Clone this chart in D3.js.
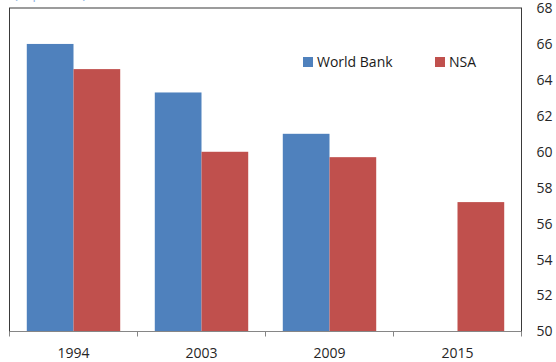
<!DOCTYPE html>
<html>
<head>
<meta charset="utf-8">
<script src="https://cdn.jsdelivr.net/npm/d3@7"></script>
<style>
  body { margin: 0; background: #fff; }
  text { font-family: "Open Sans", "Noto Sans", sans-serif; }
</style>
</head>
<body>
<div id="chart"></div>
<script>
var years = ['1994', '2003', '2009', '2015'];
var series = ['World Bank', 'NSA'];
var worldBank = [66.0, 63.3, 61.0, null];
var nsa = [64.6, 60.0, 59.7, 57.2];
var yTicks = [50, 52, 54, 56, 58, 60, 62, 64, 66, 68];
var colors = ['#4F81BD', '#C0504D'];

var width = 556,
    height = 362;

var margin = { top: 8, right: 34.5, bottom: 30.5, left: 9.5 },
    plotW = width - margin.left - margin.right,
    plotH = height - margin.top - margin.bottom;

var svg = d3.select('#chart')
    .append('svg')
    .attr('width', width)
    .attr('height', height);

// cut off subtitle at the very top
svg.append('text')
    .attr('x', 14)
    .attr('y', -1)
    .attr('fill', '#8DB3E2')
    .style('font-size', '13px')
    .text('(in per cent)');

var g = svg.append('g')
    .attr('transform', 'translate(' + margin.left + ',' + margin.top + ')');

var x0 = d3.scaleBand().domain(years).range([0, plotW]).padding(0);
var x1 = d3.scaleBand().domain(series).range([0, x0.bandwidth()])
    .paddingInner(0).paddingOuter(0.37);
var y = d3.scaleLinear().domain([50, 68]).range([plotH, 0]);

var rows = years.map((yr, i) => ({ year: yr, values: [worldBank[i], nsa[i]] }));

// frame
g.append('rect')
    .attr('x', 0)
    .attr('y', 0)
    .attr('width', plotW)
    .attr('height', plotH)
    .attr('fill', 'none')
    .attr('stroke', '#3a3a3a')
    .attr('stroke-width', 1);

g.selectAll('.grp')
    .data(rows)
    .enter()
    .append('g')
    .attr('transform', d => 'translate(' + x0(d.year) + ',0)')
    .selectAll('rect')
    .data(d => d.values.map((v, j) => ({ key: series[j], v: v, c: colors[j] })).filter(d => d.v != null))
    .enter()
    .append('rect')
    .attr('x', d => x1(d.key))
    .attr('y', d => y(d.v))
    .attr('width', x1.bandwidth())
    .attr('height', d => plotH - y(d.v))
    .attr('fill', d => d.c);

// x axis
var xAxis = g.append('g')
    .attr('transform', 'translate(0,' + plotH + ')');
xAxis.append('line')
    .attr('x1', 0).attr('x2', plotW)
    .attr('stroke', '#868686');
xAxis.selectAll('.tk')
    .data(d3.range(years.length + 1))
    .enter()
    .append('line')
    .attr('x1', i => i * x0.step())
    .attr('x2', i => i * x0.step())
    .attr('y1', 0).attr('y2', 5)
    .attr('stroke', '#868686');
xAxis.selectAll('.lbl')
    .data(years)
    .enter()
    .append('text')
    .attr('x', d => x0(d) + x0.bandwidth() / 2)
    .attr('y', 26)
    .attr('text-anchor', 'middle')
    .attr('fill', '#262626')
    .style('font-size', '14px')
    .text(d => d);

// y labels on the right
g.selectAll('.ylbl')
    .data(yTicks)
    .enter()
    .append('text')
    .attr('x', plotW + 15)
    .attr('y', d => y(d))
    .attr('dy', '0.35em')
    .attr('fill', '#262626')
    .style('font-size', '14px')
    .text(d => d);

// legend
var legX = [303, 435];
var leg = svg.selectAll('.leg')
    .data(series)
    .enter()
    .append('g')
    .attr('transform', (d, i) => 'translate(' + legX[i] + ',57)');
leg.append('rect')
    .attr('width', 10)
    .attr('height', 10)
    .attr('fill', (d, i) => colors[i]);
leg.append('text')
    .attr('x', 14)
    .attr('y', 10)
    .attr('fill', '#1a1a1a')
    .style('font-size', '14px')
    .text(d => d);
</script>
</body>
</html>
